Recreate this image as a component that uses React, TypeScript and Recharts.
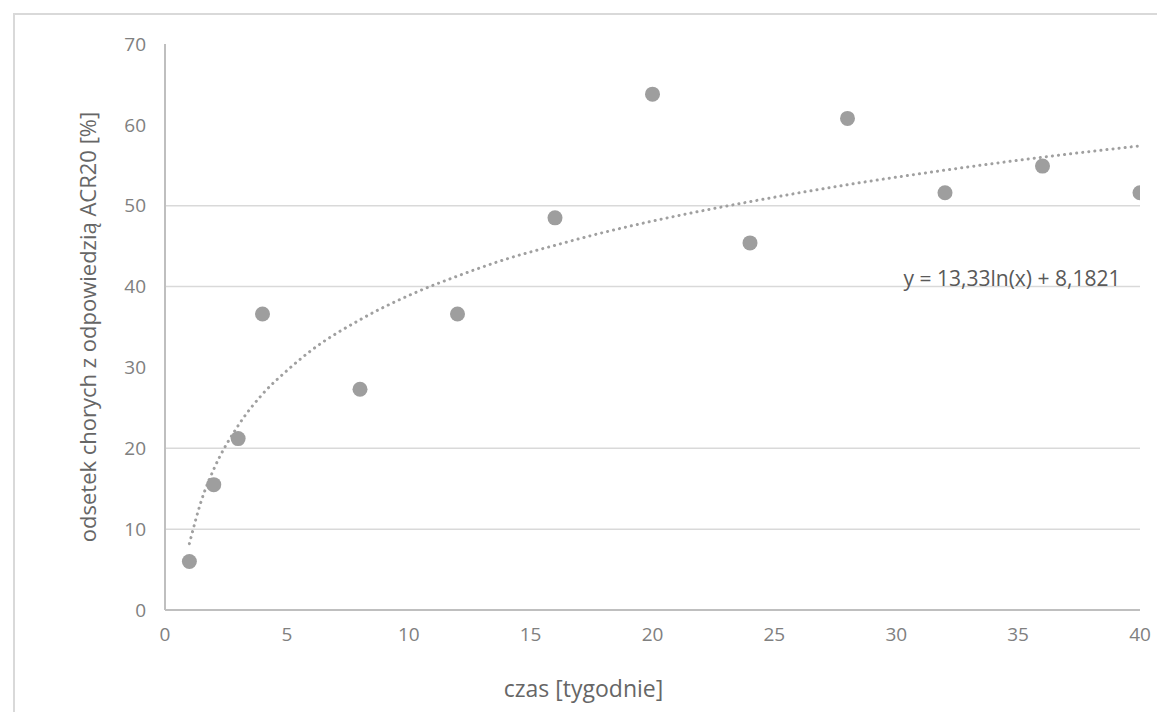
import {
  ComposedChart,
  Scatter,
  Line,
  XAxis,
  YAxis,
  CartesianGrid,
  ReferenceDot,
} from "recharts";

// tygodnie (x) i odsetek chorych z odpowiedzią ACR20 (y)
const weeks = [1, 2, 3, 4, 8, 12, 16, 20, 24, 28, 32, 36, 40];
const acr20 = [6.0, 15.5, 21.2, 36.6, 27.3, 36.6, 48.5, 63.8, 45.4, 60.8, 51.6, 54.9, 51.6];

// logarithmic trend line
const trendWeeks = [1, 1.5, 2, 3, 4, 5, 6, 8, 10, 12, 14, 16, 18, 20, 24, 28, 32, 36, 40];
const trendValues = [8.2, 13.6, 17.4, 22.8, 26.7, 29.6, 32.1, 35.9, 38.9, 41.3, 43.4, 45.1, 46.7, 48.1, 50.5, 52.6, 54.4, 56.0, 57.4];

const xTicks = [0, 5, 10, 15, 20, 25, 30, 35, 40];
const yTicks = [0, 10, 20, 30, 40, 50, 60, 70];
const gridValues = [10, 20, 40, 50];

const trendLabel = "y = 13,33ln(x) + 8,1821";

const points = weeks.map((x, i) => ({ x, y: acr20[i] }));
const trend = trendWeeks.map((x, i) => ({ x, y: trendValues[i] }));

const font = "'Open Sans', 'DejaVu Sans', sans-serif";
const tickStyle = { fill: "#808080", fontSize: 19, fontFamily: font };

const Dot = (props: any) => <circle cx={props.cx} cy={props.cy} r={7.5} fill="#9e9e9e" />;

export default function App() {
  return (
    <div style={{ position: "relative", width: 1165, height: 720, margin: -8, overflow: "hidden", background: "#fff" }}>
      <div
        style={{
          position: "absolute",
          left: 13,
          top: 13,
          width: 1200,
          height: 800,
          borderLeft: "2px solid #d9d9d9",
          borderTop: "2px solid #d9d9d9",
        }}
      />
      <div style={{ position: "absolute", left: 0, top: 0 }}>
        <ComposedChart width={1165} height={720} margin={{ top: 44, right: 25, left: 60, bottom: 20 }}>
          <CartesianGrid horizontal vertical={false} horizontalValues={gridValues} stroke="#d9d9d9" strokeWidth={1.5} />
          <XAxis
            type="number"
            dataKey="x"
            domain={[0, 40]}
            ticks={xTicks}
            allowDataOverflow
            height={90}
            tickLine={false}
            tickSize={0}
            tickMargin={18}
            axisLine={{ stroke: "#bfbfbf", strokeWidth: 2 }}
            tick={tickStyle}
            label={{
              value: "czas [tygodnie]",
              position: "insideBottom",
              offset: 3,
              dx: -69,
              fill: "#666",
              fontSize: 23,
              fontFamily: font,
            }}
          />
          <YAxis
            type="number"
            dataKey="y"
            domain={[0, 70]}
            ticks={yTicks}
            allowDataOverflow
            width={105}
            tickLine={false}
            tickSize={0}
            tickMargin={19}
            axisLine={{ stroke: "#bfbfbf", strokeWidth: 2 }}
            tick={tickStyle}
            label={{
              value: "odsetek chorych z odpowiedzią ACR20 [%]",
              angle: -90,
              position: "center",
              dx: -24,
              fill: "#666",
              fontSize: 22,
              fontFamily: font,
            }}
          />
          <Line
            data={trend}
            dataKey="y"
            type="monotone"
            stroke="#a0a0a0"
            strokeWidth={3}
            strokeDasharray="0.1 6"
            strokeLinecap="round"
            dot={false}
            activeDot={false}
            isAnimationActive={false}
          />
          <Scatter data={points} dataKey="y" shape={Dot} isAnimationActive={false} />
          <ReferenceDot
            x={34.75}
            y={41}
            r={0}
            fill="none"
            stroke="none"
            label={{ value: trendLabel, position: "center", fill: "#595959", fontSize: 21, fontFamily: font }}
          />
        </ComposedChart>
      </div>
    </div>
  );
}
